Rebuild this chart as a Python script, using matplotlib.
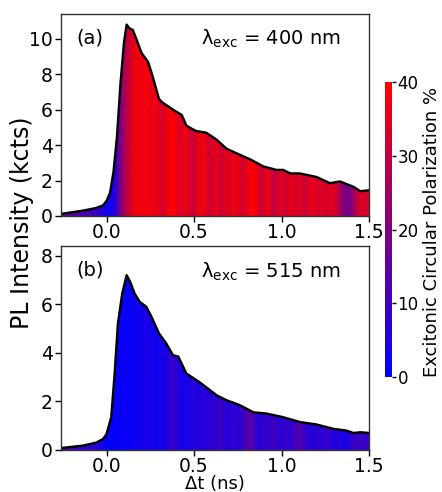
import numpy as np
import matplotlib
matplotlib.use("Agg")
from matplotlib import pyplot as plt
from matplotlib.colors import LinearSegmentedColormap, Normalize

# PL transients (time in ns, intensity in kcts)
t_a = [-0.26, -0.135, -0.06, -0.02, 0.0, 0.02, 0.04, 0.06, 0.08, 0.10, 0.115, 0.13,
       0.15, 0.17, 0.2, 0.237, 0.26, 0.30, 0.32, 0.38, 0.43, 0.456, 0.51, 0.57, 0.63,
       0.685, 0.74, 0.82, 0.895, 0.97, 1.01, 1.05, 1.105, 1.2, 1.277, 1.334, 1.41,
       1.45, 1.5]
pl_a = [0.12, 0.3, 0.45, 0.6, 0.85, 1.3, 2.5, 4.5, 7.5, 9.8, 10.8, 10.6,
        10.5, 10.0, 9.2, 8.7, 8.0, 6.6, 6.4, 6.0, 5.7, 5.1, 4.8, 4.7, 4.3,
        3.8, 3.55, 3.2, 2.8, 2.6, 2.6, 2.4, 2.4, 2.2, 1.85, 1.95, 1.65,
        1.4, 1.45]

t_b = [-0.26, -0.135, -0.06, -0.02, 0.0, 0.027, 0.046, 0.065, 0.09, 0.115, 0.137,
       0.16, 0.19, 0.227, 0.256, 0.30, 0.34, 0.38, 0.41, 0.456, 0.53, 0.63, 0.685,
       0.76, 0.84, 0.914, 1.01, 1.105, 1.2, 1.296, 1.37, 1.41, 1.45, 1.5]
pl_b = [0.08, 0.18, 0.3, 0.45, 0.65, 1.35, 3.1, 5.2, 6.45, 7.2, 6.9,
        6.45, 6.1, 5.9, 5.5, 4.8, 4.4, 3.9, 3.85, 3.15, 2.8, 2.25, 2.05,
        1.85, 1.55, 1.5, 1.35, 1.15, 1.05, 0.87, 0.8, 0.7, 0.73, 0.7]

# excitonic circular polarization (%), sampled every 0.025 ns from -0.25 to 1.5
pol_a = [14, 14, 13, 13, 12, 12, 11, 10, 8, 5,
         3, 2, 6, 18, 26, 31, 36, 38, 37, 39, 36, 38, 35, 33, 38, 40, 36, 34, 38, 33,
         32, 37, 38, 34, 33, 37, 31, 36, 34, 38, 35, 33, 36, 40, 38, 32, 34, 37, 30, 33,
         35, 32, 37, 33, 36, 31, 34, 37, 33, 35, 32, 36, 34, 28, 20, 18, 22, 30, 35, 33,
         36]
pol_b = [12, 11, 10, 10, 9, 8, 8, 7, 5, 3,
         1, 0, 1, 1, 2, 1, 2, 3, 2, 4, 3, 2, 4, 3, 5, 9, 6, 4, 3, 5,
         6, 4, 7, 5, 8, 6, 10, 7, 5, 8, 6, 9, 12, 15, 8, 6, 9, 7, 10, 8,
         6, 9, 7, 10, 14, 9, 7, 5, 8, 6, 9, 7, 4, 6, 3, 5, 8, 9, 10, 8,
         9]

panels = [("(a)", "λ$_{\\rm exc}$ = 400 nm", t_a, pl_a, pol_a, 11.4, [0, 2, 4, 6, 8, 10]),
          ("(b)", "λ$_{\\rm exc}$ = 515 nm", t_b, pl_b, pol_b, 8.4, [0, 2, 4, 6, 8])]

cmap = LinearSegmentedColormap.from_list("br", ["#0000ff", "#ff0000"])
norm = Normalize(0, 40)

plt.rcParams['font.family'] = ['DejaVu Sans']
plt.rcParams['mathtext.fontset'] = 'dejavusans'

fig = plt.figure(figsize=(4.42, 4.92), dpi=100)
ax_a = fig.add_axes([0.138, 0.561, 0.697, 0.4106])
ax_b = fig.add_axes([0.138, 0.0854, 0.697, 0.4146])
cax = fig.add_axes([0.871, 0.2337, 0.016, 0.5996])

for ax, (tag, lam, t, pl, pol, ytop, yt) in zip([ax_a, ax_b], panels):
    n = len(pol)
    step = 1.75 / (n - 1)
    poly = ax.fill_between(t, 0, pl, color='none', lw=0)
    img = ax.imshow(np.array(pol, dtype=float)[np.newaxis, :], cmap=cmap, norm=norm,
                    aspect='auto', interpolation='bilinear',
                    extent=[-0.25 - step / 2, 1.5 + step / 2, 0, ytop])
    path = poly.get_paths()[0]
    img.set_clip_path(path, transform=ax.transData)
    ax.plot(t, pl, color='black', lw=1.7)
    ax.set_xlim(-0.26, 1.5)
    ax.set_ylim(0, ytop)
    ax.set_yticks(yt)
    ax.set_xticks([0.0, 0.5, 1.0, 1.5])
    ax.set_xticklabels(['0.0', '0.5', '1.0', '1.5'])
    ax.tick_params(labelsize=13.5, length=4, width=1, direction='out', pad=2)
    ax.tick_params(axis='x', pad=1)
    for s in ax.spines.values():
        s.set_linewidth(1.0)
        s.set_color('#333333')
    ax.text(0.05, 0.93, tag, transform=ax.transAxes, fontsize=14, va='top', ha='left')
    ax.text(0.91, 0.93, lam, transform=ax.transAxes, fontsize=14, va='top', ha='right')

sm = plt.cm.ScalarMappable(norm=norm, cmap=cmap)
cb = fig.colorbar(sm, cax=cax, ticks=[0, 10, 20, 30, 40])
cb.outline.set_visible(False)
cb.ax.tick_params(labelsize=12, length=3, width=1, pad=1)
fig.text(0.978, 0.528, "Excitonic Circular Polarization %", rotation=90,
         fontsize=13, ha='center', va='center')

ax_b.set_xlabel("Δt (ns)", fontsize=13, labelpad=-1)
fig.text(0.05, 0.547, "PL Intensity (kcts)", rotation=90, fontsize=17, ha='center', va='center')

fig.savefig("out.png", dpi=100)
